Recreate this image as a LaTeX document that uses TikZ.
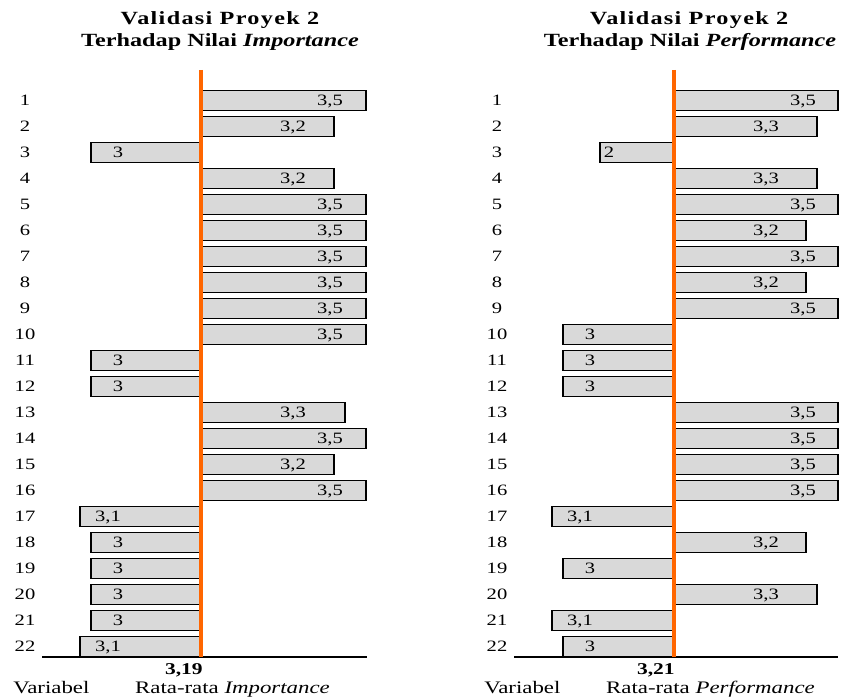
\documentclass[tikz,border=0pt]{standalone}
\usepackage{fontspec}
\setmainfont[FakeStretch=1.3]{Liberation Serif}
\usepackage{xcolor}
\usepackage{tikz}
\usetikzlibrary{
    positioning,
    calc
}

\definecolor{meanorange}{HTML}{FF6600}
\definecolor{barfill}{HTML}{D9D9D9}

\begin{document}
\begin{tikzpicture}[
        x=0.02cm,
        y=-0.02cm,
        bar/.style={
            draw=black,
            line width=1.1pt,
            fill=barfill
        },
        meanline/.style={
            draw=meanorange,
            line width=2.1pt
        },
        axisline/.style={
            draw=black,
            line width=1.5pt
        },
        charttitle/.style={
            font=\fontsize{10.6}{13}\selectfont\bfseries,
            inner sep=0pt,
            anchor=base
        },
        spaced/.style={
            font=\fontsize{10.6}{13}\selectfont\bfseries\addfontfeature{LetterSpace=7}
        },
        num/.style={
            font=\fontsize{9}{11}\selectfont,
            inner sep=0pt,
            anchor=base
        },
        axtext/.style={
            font=\fontsize{10}{12}\selectfont,
            inner sep=0pt
        }
    ]

    \useasboundingbox (0,0) rectangle (841,699);

    % left chart: importance
    \node[charttitle, spaced] (imp-title) at (220,25) {Validasi Proyek 2};
    \node[charttitle] (imp-subtitle) at (220,47) {Terhadap Nilai \textit{Importance}};

    \foreach \row/\x/\val/\tx in {
        1/366/{3,5}/330, 2/334/{3,2}/293, 3/91/3/118, 4/334/{3,2}/293,
        5/366/{3,5}/330, 6/366/{3,5}/330, 7/366/{3,5}/330, 8/366/{3,5}/330,
        9/366/{3,5}/330, 10/366/{3,5}/330, 11/91/3/118, 12/91/3/118,
        13/345/{3,3}/293, 14/366/{3,5}/330, 15/334/{3,2}/293, 16/366/{3,5}/330,
        17/80/{3,1}/108, 18/91/3/118, 19/91/3/118, 20/91/3/118,
        21/91/3/118, 22/80/{3,1}/108}
    {
        \pgfmathsetmacro{\yc}{100.5+26*(\row-1)}
        \draw[bar] (\x,\yc-10) rectangle (201,\yc+10);
        \node[num] (imp-val-\row) at (\tx,\yc+5) {\val};
        \node[num] (imp-row-\row) at (25,\yc+5) {\row};
    }

    \draw[axisline] (42,657) -- (367,657);
    \draw[meanline] (201,70) -- (201,657);

    \node[num, font=\fontsize{9.4}{11}\selectfont\bfseries, anchor=base east]
        (imp-mean) at (203,674) {3,19};
    \node[axtext, anchor=base west] (imp-var) at (13,693) {Variabel};
    \node[axtext, base right=0.9cm of imp-var] (imp-avg)
        {Rata-rata \textit{Importance}};

    % right chart: performance
    \node[charttitle, spaced] (perf-title) at (689,25) {Validasi Proyek 2};
    \node[charttitle] (perf-subtitle) at (690,47) {Terhadap Nilai \textit{Performance}};

    \foreach \row/\x/\val/\tx in {
        1/838/{3,5}/803, 2/817/{3,3}/766, 3/600/2/609, 4/817/{3,3}/766,
        5/838/{3,5}/803, 6/806/{3,2}/766, 7/838/{3,5}/803, 8/806/{3,2}/766,
        9/838/{3,5}/803, 10/563/3/590, 11/563/3/590, 12/563/3/590,
        13/838/{3,5}/803, 14/838/{3,5}/803, 15/838/{3,5}/803, 16/838/{3,5}/803,
        17/552/{3,1}/580, 18/806/{3,2}/766, 19/563/3/590, 20/817/{3,3}/766,
        21/552/{3,1}/580, 22/563/3/590}
    {
        \pgfmathsetmacro{\yc}{100.5+26*(\row-1)}
        \draw[bar] (\x,\yc-10) rectangle (674,\yc+10);
        \node[num] (perf-val-\row) at (\tx,\yc+5) {\val};
        \node[num] (perf-row-\row) at (497,\yc+5) {\row};
    }

    \draw[axisline] (514,657) -- (838,657);
    \draw[meanline] (674,70) -- (674,657);

    \node[num, font=\fontsize{9.4}{11}\selectfont\bfseries, anchor=base east]
        (perf-mean) at (675,674) {3,21};
    \node[axtext, anchor=base west] (perf-var) at (484,693) {Variabel};
    \node[axtext, base right=0.9cm of perf-var] (perf-avg)
        {Rata-rata \textit{Performance}};

\end{tikzpicture}
\end{document}
